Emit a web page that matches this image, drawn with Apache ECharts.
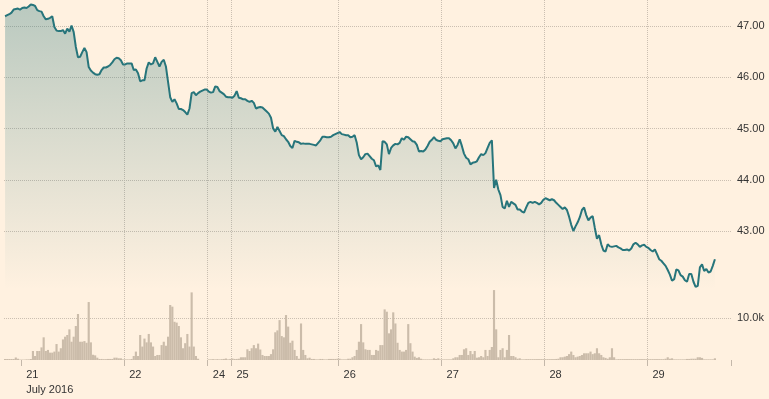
<!DOCTYPE html>
<html>
<head>
<meta charset="utf-8">
<script src="https://cdn.jsdelivr.net/npm/echarts@6/dist/echarts.min.js"></script>
<style>
  html, body { margin: 0; padding: 0; background: #fff1e0; }
  #chart { width: 769px; height: 399px; }
</style>
</head>
<body>
<div id="chart"></div>
<script>
// half-hour slots, 20 Jul 2016 evening to 29 Jul
const slotCount = 339
const dayStarts = [8, 56, 95, 106, 156, 204, 252, 300]
const dayLabels = ['21', '22', '24', '25', '26', '27', '28', '29']
const monthLabel = 'July 2016'

const priceTicks = [43, 44, 45, 46, 47]
const volumeTicks = [10000]

const prices = [
  47.19, 47.21, 47.23, 47.26, 47.32, 47.33, 47.34, 47.32, 47.35, 47.36,
  47.35, 47.38, 47.42, 47.41, 47.39, 47.31, 47.29, 47.28, 47.19, 47.13,
  47.14, 47.16, 47.19, 46.98, 46.91, 46.90, 46.90, 46.92, 46.85, 46.95,
  46.89, 47.01, 46.88, 46.59, 46.39, 46.40, 46.49, 46.57, 46.49, 46.20,
  46.13, 46.09, 46.06, 46.05, 46.06, 46.14, 46.19, 46.19, 46.21, 46.24,
  46.29, 46.35, 46.38, 46.37, 46.33, 46.25, 46.25, 46.27, 46.27, 46.27,
  46.14, 46.15, 46.08, 45.92, 45.94, 45.94, 46.17, 46.29, 46.25, 46.27,
  46.39, 46.30, 46.21, 46.30, 46.34, 46.21, 45.91, 45.61, 45.52, 45.57,
  45.49, 45.38, 45.38, 45.36, 45.32, 45.27, 45.39, 45.69, 45.71, 45.65,
  45.69, 45.72, 45.74, 45.76, 45.76, 45.72, 45.70, 45.71, 45.82, 45.81,
  45.73, 45.70, 45.67, 45.62, 45.61, 45.61, 45.60, 45.64, 45.73, 45.60,
  45.59, 45.57, 45.57, 45.54, 45.52, 45.54, 45.50, 45.39, 45.41, 45.42,
  45.41, 45.37, 45.33, 45.29, 45.21, 45.00, 44.94, 45.03, 44.95, 44.87,
  44.85, 44.79, 44.74, 44.66, 44.62, 44.76, 44.74, 44.73, 44.70, 44.71,
  44.70, 44.70, 44.70, 44.69, 44.68, 44.67, 44.72, 44.77, 44.84, 44.84,
  44.83, 44.83, 44.84, 44.87, 44.89, 44.91, 44.93, 44.89, 44.88, 44.87,
  44.87, 44.83, 44.84, 44.87, 44.72, 44.48, 44.40, 44.44, 44.50, 44.51,
  44.46, 44.41, 44.38, 44.26, 44.28, 44.19, 44.75, 44.74, 44.69, 44.50,
  44.62, 44.67, 44.70, 44.69, 44.72, 44.81, 44.78, 44.84, 44.83, 44.79,
  44.75, 44.74, 44.68, 44.55, 44.56, 44.55, 44.59, 44.66, 44.74, 44.78,
  44.83, 44.78, 44.76, 44.75, 44.79, 44.80, 44.81, 44.81, 44.77, 44.71,
  44.61, 44.68, 44.79, 44.66, 44.51, 44.43, 44.40, 44.30, 44.33, 44.34,
  44.36, 44.44, 44.50, 44.48, 44.52, 44.62, 44.72, 44.77, 43.84, 44.00,
  43.81, 43.70, 43.47, 43.44, 43.59, 43.47, 43.57, 43.54, 43.51, 43.42,
  43.42, 43.38, 43.36, 43.46, 43.55, 43.57, 43.55, 43.57, 43.55, 43.52,
  43.55, 43.61, 43.64, 43.62, 43.60, 43.62, 43.60, 43.55, 43.51, 43.47,
  43.43, 43.46, 43.41, 43.28, 43.12, 43.00, 43.09, 43.17, 43.27, 43.41,
  43.46, 43.31, 43.21, 43.26, 43.29, 43.06, 42.85, 42.92, 42.74, 42.62,
  42.60, 42.74, 42.70, 42.69, 42.70, 42.71, 42.68, 42.66, 42.63, 42.63,
  42.64, 42.62, 42.66, 42.74, 42.77, 42.74, 42.69, 42.72, 42.73, 42.69,
  42.67, 42.63, 42.60, 42.64, 42.55, 42.45, 42.42, 42.37, 42.32, 42.24,
  42.15, 42.03, 42.06, 42.25, 42.23, 42.14, 42.11, 42.04, 42.01, 42.16,
  42.16, 42.01, 41.91, 41.93, 42.29, 42.35, 42.22, 42.26, 42.19, 42.21,
  42.32, 42.45
]

const volumes = [
  240, 240, 240, 240, 240, 600, 300, 100, 100, 100,
  150, 150, 240, 2150, 950, 2150, 2150, 3000, 5400, 2150,
  2400, 1750, 1750, 2000, 3800, 2000, 2800, 4900, 5550, 5950,
  7300, 4350, 5550, 8100, 10950, 4350, 4350, 4500, 4100, 13800,
  4200, 1250, 1100, 550, 250, 250, 200, 200, 250, 250,
  250, 550, 550, 400, 400, 150, 150, 150, 150, 250,
  950, 2000, 950, 5950, 3200, 5100, 4200, 6200, 4200, 3200,
  950, 1200, 1200, 3550, 4350, 3400, 5550, 13100, 12700, 9100,
  8900, 8100, 5400, 2800, 4000, 6200, 3200, 16100, 3200, 950,
  300, 0, 0, 0, 0, 150, 150, 200, 150, 200,
  150, 200, 250, 350, 150, 250, 350, 250, 250, 300,
  650, 650, 650, 2550, 2150, 2800, 3550, 2800, 3900, 2500,
  1200, 950, 950, 950, 1400, 2550, 6600, 7050, 9500, 5700,
  5400, 10700, 7950, 4100, 4600, 2400, 950, 300, 8700, 2400,
  1200, 400, 550, 250, 250, 150, 150, 250, 250, 150,
  150, 250, 250, 250, 250, 300, 300, 150, 150, 150,
  300, 300, 650, 950, 2400, 4350, 8550, 4200, 2550, 2400,
  2400, 1200, 1200, 2400, 2200, 3550, 3550, 12050, 11500, 6350,
  7300, 11350, 8700, 4100, 2400, 2000, 2000, 2400, 8550, 4000,
  2000, 800, 500, 650, 300, 150, 150, 150, 150, 150,
  400, 250, 400, 150, 150, 150, 150, 150, 150, 400,
  650, 650, 1200, 1200, 2550, 2800, 1200, 2150, 1400, 2150,
  550, 650, 950, 650, 2400, 950, 2400, 3100, 16650, 7300,
  650, 2400, 2800, 650, 2400, 5950, 950, 950, 650, 300,
  400, 150, 150, 200, 200, 200, 200, 200, 200, 200,
  200, 200, 200, 200, 200, 200, 200, 250, 300, 650,
  650, 800, 950, 1400, 2000, 1200, 650, 800, 950, 1200,
  1600, 1600, 1600, 2000, 1400, 1600, 2800, 1600, 1200, 650,
  500, 300, 650, 2800, 650, 150, 200, 200, 200, 200,
  200, 200, 200, 200, 200, 200, 200, 200, 200, 200,
  200, 200, 200, 200, 200, 200, 200, 200, 300, 650,
  300, 400, 150, 150, 150, 150, 150, 150, 250, 250,
  300, 300, 300, 650, 650, 500, 150, 150, 150, 150,
  150, 400
]

const slots = Array.from({ length: slotCount }, (_, i) => String(i))
const isDayStart = index => dayStarts.includes(index)

const gridColor = '#cbbfb1'
const textStyle = { color: '#333', fontSize: 11, fontFamily: 'Arial, "Liberation Sans", sans-serif' }

const chart = echarts.init(document.getElementById('chart'), null, { renderer: 'canvas' })
chart.setOption({
  backgroundColor: '#fff1e0',
  animation: false,
  grid: [
    { left: 4, right: 38, top: 0, height: 290 },
    { left: 4, right: 38, top: 290, height: 70 }
  ],
  xAxis: [{
    type: 'category',
    gridIndex: 0,
    data: slots,
    boundaryGap: true,
    axisLine: { show: false },
    axisTick: { show: false },
    axisLabel: { show: false },
    splitLine: {
      show: true,
      interval: isDayStart,
      showMinLine: false,
      showMaxLine: false,
      lineStyle: { color: gridColor, type: 'dotted' }
    }
  }, {
    type: 'category',
    gridIndex: 1,
    data: slots,
    boundaryGap: true,
    axisLine: { show: false },
    axisTick: {
      show: true,
      interval: isDayStart,
      length: 6,
      lineStyle: { color: '#c4b8aa' }
    },
    axisLabel: {
      ...textStyle,
      interval: isDayStart,
      align: 'left',
      margin: 7,
      lineHeight: 15,
      padding: [0, 0, 0, 4],
      formatter: (value, index) => {
        const k = dayStarts.indexOf(index)
        if (k < 0) return ''
        return k === 0 ? dayLabels[k] + '\n' + monthLabel : dayLabels[k]
      }
    },
    splitLine: {
      show: true,
      interval: isDayStart,
      showMinLine: false,
      showMaxLine: false,
      lineStyle: { color: gridColor, type: 'dotted' }
    }
  }],
  yAxis: [{
    type: 'value',
    gridIndex: 0,
    position: 'right',
    min: 41.849,
    max: 47.507,
    axisLine: { show: false },
    axisTick: { show: false, customValues: priceTicks },
    axisLabel: {
      ...textStyle,
      margin: 6,
      customValues: priceTicks,
      formatter: v => v.toFixed(2)
    },
    splitLine: { show: true, lineStyle: { color: gridColor, type: 'dotted' } }
  }, {
    type: 'value',
    gridIndex: 1,
    position: 'right',
    min: 0,
    max: 16667,
    axisLine: { show: false },
    axisTick: { show: false, customValues: volumeTicks },
    axisLabel: {
      ...textStyle,
      margin: 6,
      customValues: volumeTicks,
      formatter: v => (v / 1000).toFixed(1) + 'k'
    },
    splitLine: { show: true, lineStyle: { color: gridColor, type: 'dotted' } }
  }],
  series: [{
    name: 'Price',
    type: 'line',
    xAxisIndex: 0,
    yAxisIndex: 0,
    data: prices,
    symbol: 'none',
    lineStyle: { color: '#27757b', width: 2 },
    areaStyle: {
      color: new echarts.graphic.LinearGradient(0, 0, 0, 1, [
        { offset: 0, color: 'rgba(39,117,123,0.46)' },
        { offset: 1, color: 'rgba(39,117,123,0)' }
      ])
    }
  }, {
    name: 'Volume',
    type: 'bar',
    xAxisIndex: 1,
    yAxisIndex: 1,
    data: volumes,
    barCategoryGap: '0%',
    itemStyle: { color: '#cbbcaa' }
  }]
})
</script>
</body>
</html>
